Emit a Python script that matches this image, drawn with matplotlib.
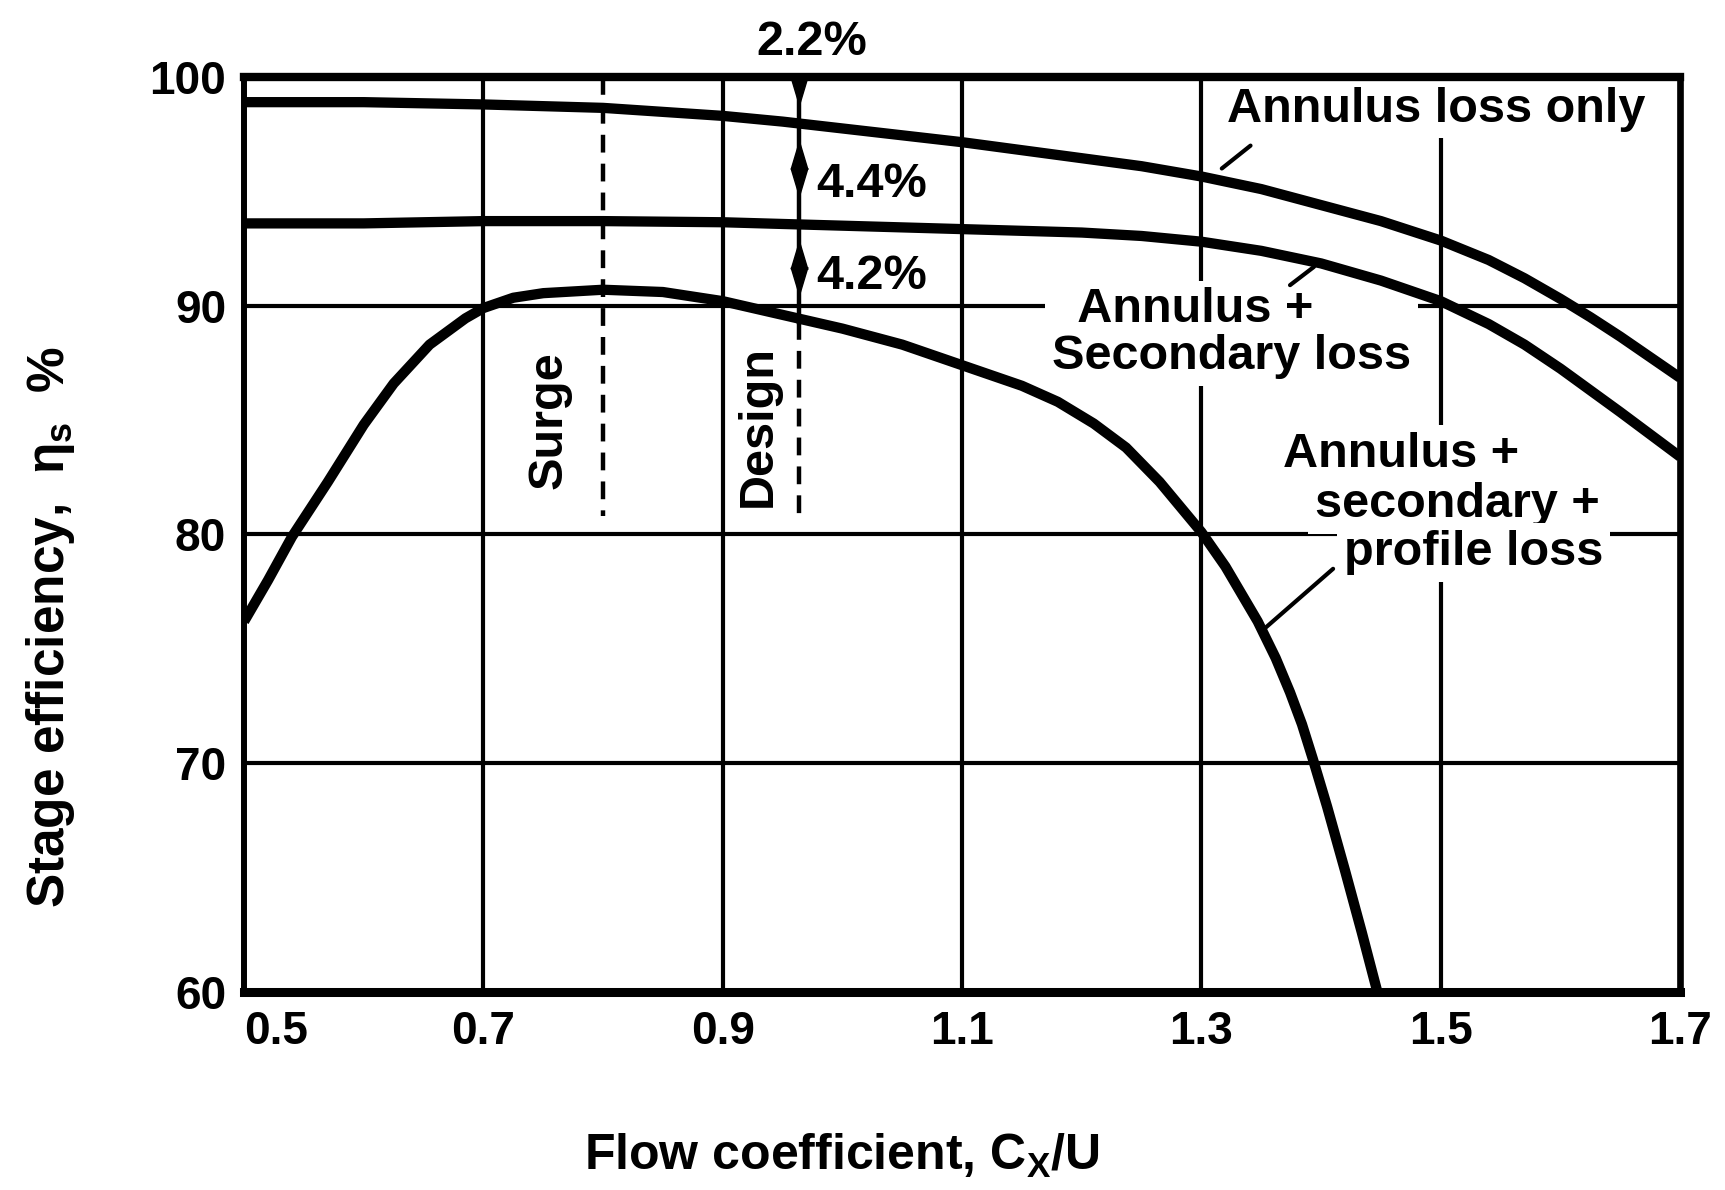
import numpy as np
import matplotlib.pyplot as plt

plt.rcParams['font.family'] = ['Liberation Sans', 'DejaVu Sans']
plt.rcParams['font.weight'] = 'bold'
plt.rcParams['mathtext.fontset'] = 'custom'
plt.rcParams['mathtext.rm'] = 'Liberation Sans:bold'

# values
flow_ann = [0.5, 0.6, 0.7, 0.8, 0.9, 0.95, 1.0, 1.05, 1.1, 1.15, 1.2, 1.25, 1.3, 1.35,
            1.4, 1.45, 1.5, 1.54, 1.57, 1.6, 1.625, 1.65, 1.7]
eff_ann = [98.9, 98.9, 98.8, 98.65, 98.3, 98.05, 97.75, 97.45, 97.15, 96.8, 96.45, 96.1, 95.65, 95.1,
           94.4, 93.7, 92.85, 92.0, 91.2, 90.3, 89.5, 88.65, 86.85]

flow_sec = [0.5, 0.6, 0.7, 0.8, 0.9, 1.0, 1.1, 1.2, 1.25, 1.3, 1.35, 1.4, 1.45, 1.5, 1.54,
            1.57, 1.6, 1.625, 1.65, 1.7]
eff_sec = [93.6, 93.6, 93.7, 93.7, 93.65, 93.5, 93.35, 93.2, 93.05, 92.8, 92.4, 91.85, 91.1, 90.2, 89.2,
           88.3, 87.25, 86.3, 85.35, 83.4]

flow_prof = [0.5, 0.52, 0.54, 0.57, 0.60, 0.625, 0.655, 0.685, 0.70, 0.725, 0.75, 0.80,
             0.85, 0.90, 0.95, 1.00, 1.05, 1.10, 1.15, 1.18, 1.21, 1.237, 1.265, 1.30,
             1.32, 1.347, 1.362, 1.374, 1.384, 1.393, 1.405, 1.42, 1.434, 1.447]
eff_prof = [76.2, 78.0, 79.9, 82.3, 84.8, 86.6, 88.3, 89.45, 89.9, 90.35, 90.55, 90.7,
            90.6, 90.2, 89.6, 89.0, 88.3, 87.4, 86.5, 85.8, 84.85, 83.8, 82.3, 80.1,
            78.6, 76.2, 74.6, 73.1, 71.7, 70.2, 68.1, 65.3, 62.6, 60.0]

surge_x = 0.80
design_x = 0.964
design_eff = [100.0, 98.0, 93.6, 89.3]   # ideal, annulus, +secondary, +profile
loss_labels = ['2.2%', '4.4%', '4.2%']
marker_bottom = 80.8

x_ticks = [0.5, 0.7, 0.9, 1.1, 1.3, 1.5, 1.7]
y_ticks = [60, 70, 80, 90, 100]

fig = plt.figure(figsize=(17.25, 11.9), dpi=100)
ax = fig.add_axes([0.1415, 0.1664, 0.8325, 0.7689])

ax.set_xlim(0.5, 1.7)
ax.set_ylim(60, 100)
ax.set_xticks(x_ticks)
ax.set_xticklabels([f'{t:.1f}' for t in x_ticks])
ax.set_yticks(y_ticks)
ax.tick_params(length=0, labelsize=33, pad=13)
ax.get_xticklabels()[0].set_horizontalalignment('left')

ax.set_axisbelow(True)
ax.grid(True, color='black', lw=3.0)
ax.spines['top'].set_linewidth(6)
ax.spines['bottom'].set_linewidth(6.5)
ax.spines['left'].set_linewidth(4.3)
ax.spines['right'].set_linewidth(4.8)

curve_kw = dict(color='black', lw=7.4, solid_capstyle='butt', solid_joinstyle='round', zorder=4)
ax.plot(flow_ann, eff_ann, **curve_kw)
ax.plot(flow_sec, eff_sec, **curve_kw)
ax.plot(flow_prof, eff_prof, **curve_kw)

# surge / design markers
dash_kw = dict(color='black', lw=3.2, dashes=(4, 2.5), zorder=3)
ax.plot([surge_x, surge_x], [design_eff[0], marker_bottom], **dash_kw)
ax.plot([design_x, design_x], [design_eff[3], marker_bottom], **dash_kw)
ax.plot([design_x, design_x], [design_eff[0], design_eff[3]], color='black', lw=3.2, zorder=3)

# narrow arrow heads on the design line
up_head = [(-0.6, -1), (0.6, -1), (0, 1), (-0.6, -1)]
down_head = [(-0.6, 1), (0.6, 1), (0, -1), (-0.6, 1)]
head_kw = dict(color='black', ms=20, ls='none', zorder=5)
ax.plot([design_x], [99.4], marker=down_head, **head_kw)
for upper, lower in zip(design_eff[1:-1], design_eff[2:]):
    ax.plot([design_x], [upper - 1.4], marker=up_head, **head_kw)
    ax.plot([design_x], [lower + 1.8], marker=down_head, **head_kw)

box = dict(facecolor='white', edgecolor='none', pad=5)
small_box = dict(facecolor='white', edgecolor='none', pad=1)
fs = 35
ax.text(0.974, 101.5, loss_labels[0], fontsize=fs, ha='center', va='center', clip_on=False)
ax.text(0.978, 95.3, loss_labels[1], fontsize=fs, ha='left', va='center', bbox=small_box, zorder=2)
ax.text(0.978, 91.3, loss_labels[2], fontsize=fs, ha='left', va='center', bbox=small_box, zorder=2)

ax.text(0.755, 85.0, 'Surge', fontsize=fs, rotation=90, ha='center', va='center', zorder=2)
ax.text(0.930, 84.75, 'Design', fontsize=fs, rotation=90, ha='center', va='center', zorder=2)

ax.text(1.321, 98.6, 'Annulus loss only', fontsize=fs, ha='left', va='center', bbox=box, zorder=2)
ax.text(1.175, 88.8, '  Annulus +\nSecondary loss', fontsize=fs, ha='left', va='center',
        multialignment='left', linespacing=1.05, bbox=box, zorder=2)
ax.text(1.368, 83.5, 'Annulus +', fontsize=fs, ha='left', va='center', bbox=box, zorder=2)
ax.text(1.395, 81.3, 'secondary +', fontsize=fs, ha='left', va='center', bbox=box, zorder=2)
ax.text(1.419, 79.2, 'profile loss', fontsize=fs, ha='left', va='center', bbox=box, zorder=2)

lead = dict(arrowstyle='-', color='black', lw=3, shrinkA=0, shrinkB=0)
ax.annotate('', xy=(1.317, 96.0), xytext=(1.341, 97.0), arrowprops=lead, zorder=3)
ax.annotate('', xy=(1.394, 91.7), xytext=(1.374, 90.9), arrowprops=lead, zorder=3)
ax.annotate('', xy=(1.353, 75.9), xytext=(1.41, 78.5), arrowprops=lead, zorder=3)

fig.text(0.029, 0.473, 'Stage efficiency,  η$_\\mathrm{s}$  %', fontsize=37,
         rotation=90, ha='center', va='center')
fig.text(0.488, 0.029, 'Flow coefficient, C$_\\mathrm{X}$/U', fontsize=36,
         ha='center', va='center')

fig.savefig('out.png', dpi=100, facecolor='white')
